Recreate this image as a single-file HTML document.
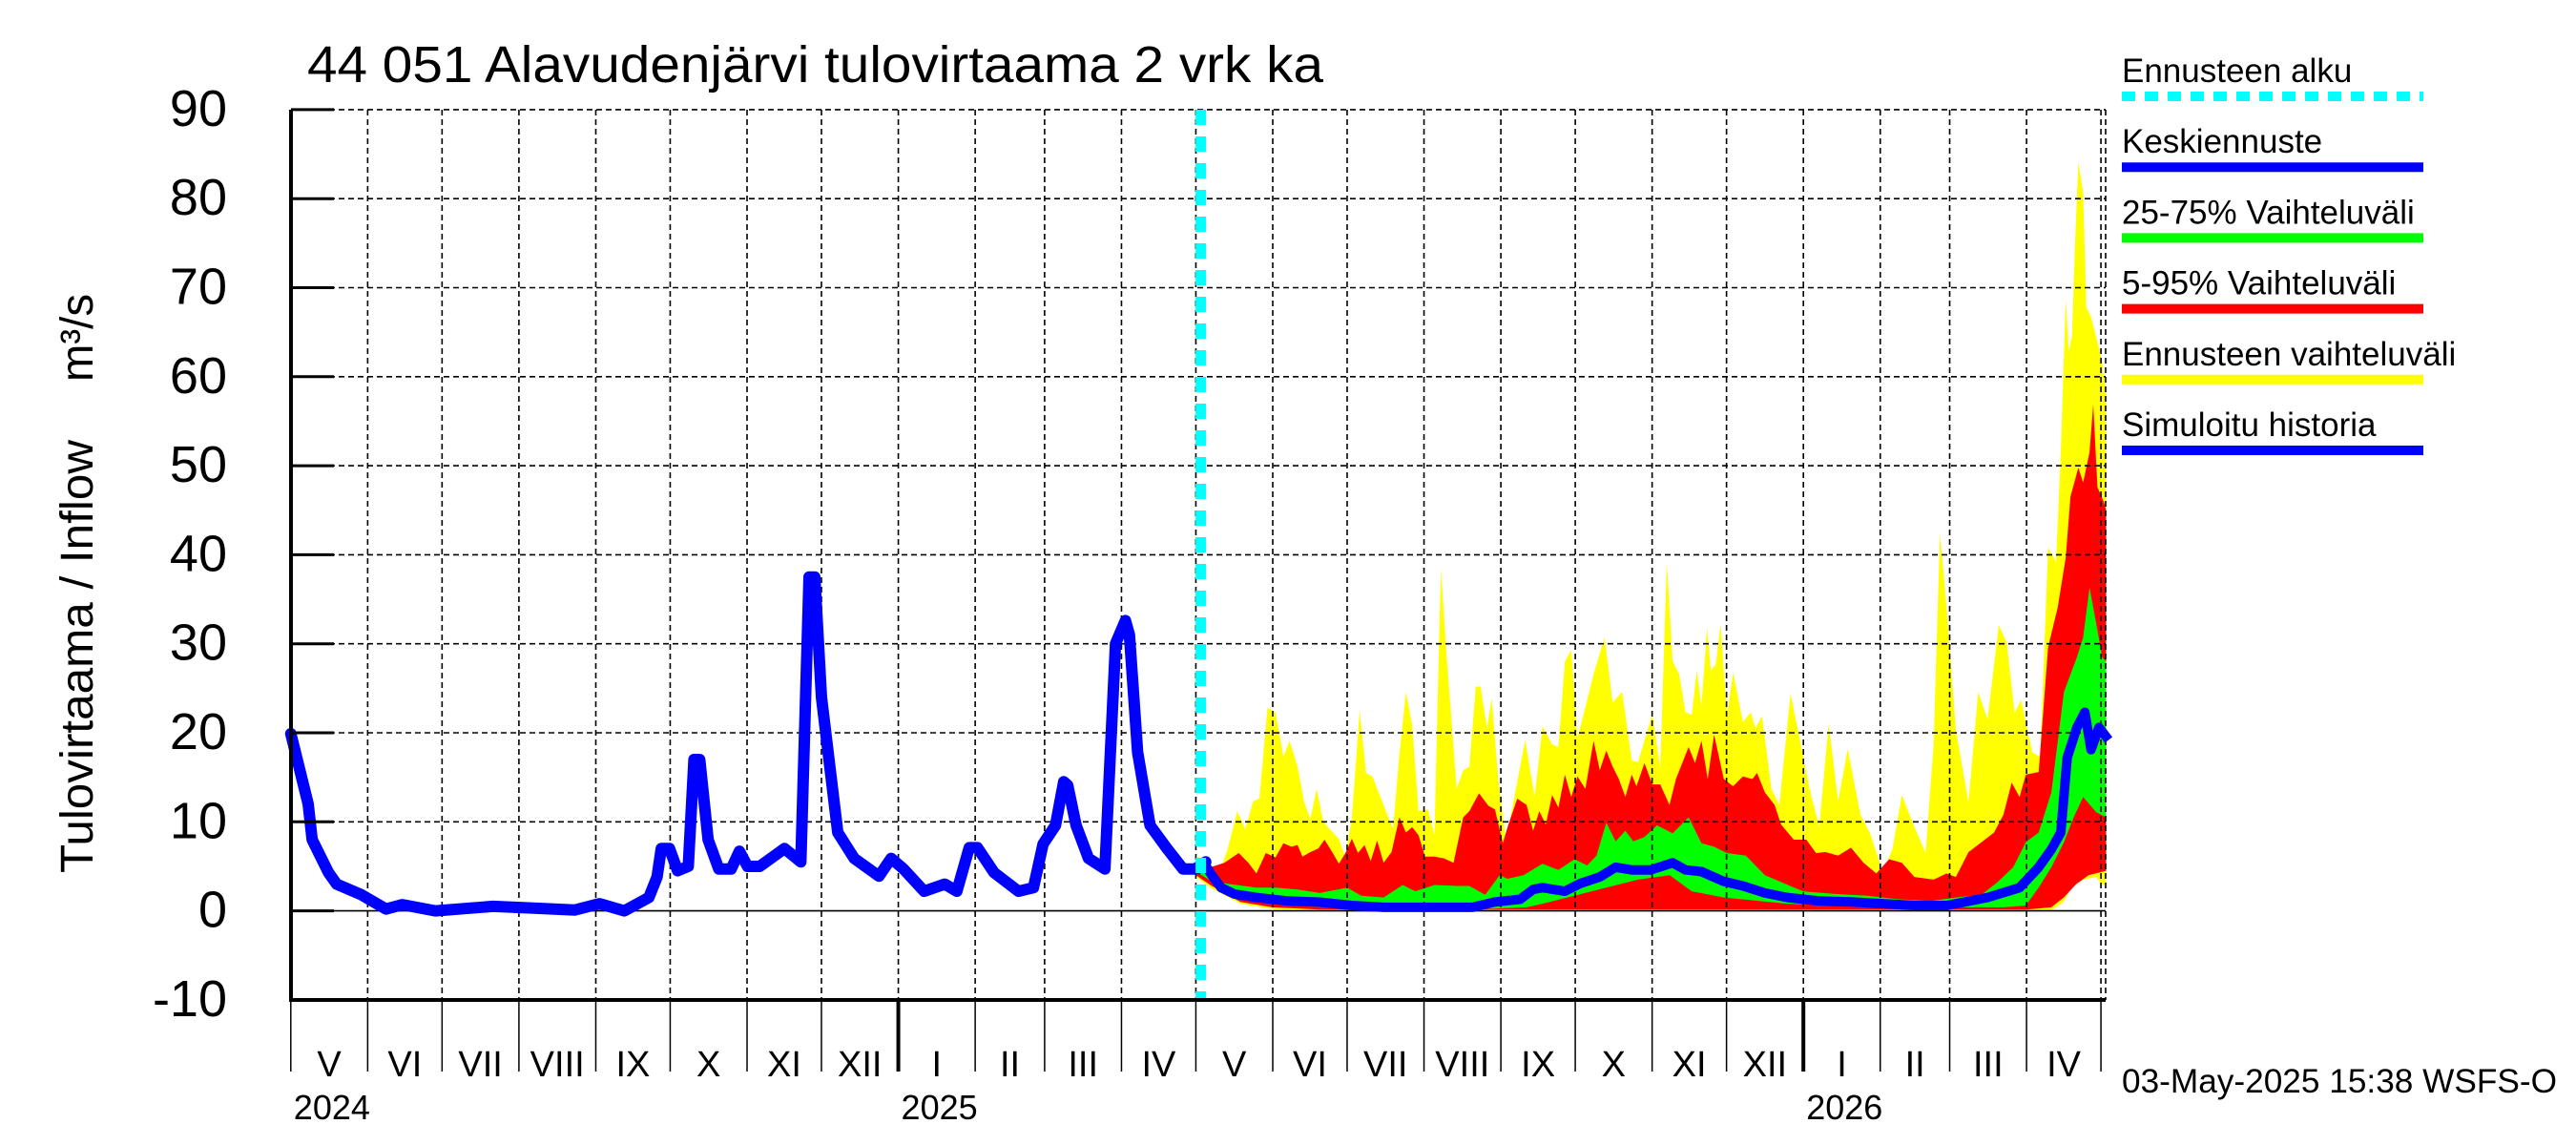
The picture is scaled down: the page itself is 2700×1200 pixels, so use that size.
<!DOCTYPE html>
<html><head><meta charset="utf-8"><style>
html,body{margin:0;padding:0;background:#fff;}
svg{display:block;font-family:"Liberation Sans",sans-serif;}
</style></head><body>
<svg id="chart" width="2700" height="1200" viewBox="0 0 2700 1200" xmlns="http://www.w3.org/2000/svg">
<text x="322" y="86" font-size="54" textLength="1065" lengthAdjust="spacingAndGlyphs">44 051 Alavudenjärvi tulovirtaama 2 vrk ka</text>
<text transform="translate(97,915) rotate(-90)" font-size="48" textLength="454" lengthAdjust="spacingAndGlyphs">Tulovirtaama / Inflow</text>
<text transform="translate(97,400) rotate(-90)" font-size="48" textLength="92" lengthAdjust="spacingAndGlyphs">m³/s</text>
<g id="bands"></g>
<g id="grid"></g>
<g id="lines"></g>
<g id="axes"></g>
<g id="legend"></g>
<text x="2224" y="1145" font-size="35" textLength="456" lengthAdjust="spacingAndGlyphs">03-May-2025 15:38 WSFS-O</text>
</svg>
<script>
// ---- data (x = days since 2024-05-01, y = m3/s) ----
const yTicks = [-10,0,10,20,30,40,50,60,70,80,90];
const monthNames = ["I","II","III","IV","V","VI","VII","VIII","IX","X","XI","XII"];
const histDays = [0,7,8.6,15.2,18.5,28.5,38.4,45,58.3,81.5,98,114.6,124.5,134.5,144.4,147.7,149.4,152.7,156,160.3,162.6,164.9,168.3,172.6,177.6,180.9,184.2,189.1,199.1,205.7,209,211.3,214,220.6,227.2,237.2,242.1,247.1,255.4,263.7,268.6,273.6,276.9,283.6,293.5,299.5,303.4,308.4,311.7,313.3,316.7,321.7,328.3,332.6,336.6,338.2,341.5,346.5,353.1,359.8,364.7,369];
const histVals = [19.9,12,8,4.3,3,1.8,0.2,0.7,0,0.5,0.3,0.1,0.8,0,1.5,3.8,7,7,4.5,5,17,17,8,4.7,4.7,6.7,5,5,7,5.5,37.5,37.5,24,8.8,5.9,3.9,5.9,4.7,2.2,3,2.2,7.1,7.1,4.3,2.2,2.6,7.5,9.6,14.5,14.1,9.6,5.9,4.7,30,32.6,31,17.8,9.6,7.1,4.7,4.7,5.5];
const ymaxDays = [365,368.8,374,377.8,381.7,384.9,388.1,390.6,393.9,397.1,400.3,402.8,406,408.6,411.2,413.7,416.3,418.9,422.7,425.3,427.9,431.1,433.6,436.2,440.7,444.5,447.1,449.7,452.2,454.8,458.6,461.2,463.8,466.3,470.2,472.8,475.3,477.9,479.8,482.4,484.3,486.9,490.1,493.3,497.8,501.6,504.8,508.7,511.2,513.8,516.4,518.9,522.8,525.4,529.8,533.1,536.9,540.8,543.3,545.9,549.1,552.3,554.9,557.3,559.9,562.5,565,567,568.9,571.2,572.7,574.7,576.6,579.2,581.7,585.6,588.8,590.7,593.3,597.1,600.3,604.8,608.7,612.5,616.4,620.2,624,627.9,633,636.9,642,645.9,649.7,654.8,659.3,662.5,665.1,667.7,671.5,676.6,680.5,684.3,688.8,692,695.2,697.8,702.3,705.5,708.7,711.9,713.8,715.8,717,718.3,719.6,720.9,722.8,724.1,726,728.6,730.5,732.1];
const ymaxVals = [6,6,4,6.9,11.2,9.2,12.3,12.6,22.8,22.3,17.3,19.1,16.2,12.3,10.3,13.7,10.1,9.2,8.1,6,10.5,22.5,15.5,15.1,11.9,9.2,17.6,24.6,20.9,11.2,11.4,8.5,38.4,28,13.7,15.8,16.2,25.2,25.2,20.5,23.9,14.8,7.8,12.6,19.2,12.8,20.7,18.7,18.4,28,29.3,19.4,23.7,26.6,30.7,23.4,24.6,16.9,16.7,19.1,22.1,16,39.1,28,26.6,22.3,22,27,23,31.8,27,27.7,32.2,21.9,26.8,21.2,22.3,20.5,21.9,13.7,11.9,24.4,19.1,13.7,9.4,21,12.3,18.2,10.8,8.7,4.4,6.9,13,9.4,6.5,18.5,42.4,34.1,20.3,12.2,24.6,21.5,32.1,30.1,22.2,23.7,17.8,17.3,40.8,39.2,51.5,68.7,62.8,64.6,75.1,84.1,80.7,67.8,66.7,63.9,61.6,58.3];
const yminDays = [365,371.4,383,395.8,415,710,715,718,722.8,728,730.5,732.1];
const yminVals = [3.8,2.5,0.8,0.2,0.05,0.05,1.0,2.6,3.5,3.8,2.9,3.0];
const p95Days = [365,368.8,376.5,382.3,386.2,389.4,393.2,397.1,400.3,403.5,406,408,411.2,414.4,416.9,420.2,422.7,425.3,427.9,430.4,433,435.5,438.1,440.7,443.9,447.1,449.7,452.2,454.8,457.4,461.2,465.1,468.9,472.8,475.3,479.2,483,485.6,488.8,490.7,494.6,498.4,501,503.5,506.1,508.7,511.2,513.8,516.4,518.9,522.1,525.4,527.9,530.5,533.1,535.6,538.2,540.8,542.7,545.9,549.1,552.3,556,558.6,563.7,566.3,568.9,571.4,574,577.9,581.7,585.6,589.4,591.3,594.5,598.4,601,606.1,611.2,615.1,618.9,624,629.2,634.3,639.4,644.6,649.7,654.8,662.5,667.7,671.5,676.6,681.8,686.9,690.7,694,697.2,699.7,704.9,708.7,712.6,715.8,717.7,720.9,722.8,725.4,726.9,728.6,731.2,732.1];
const p95Vals = [5.5,4.7,5.4,6.5,5.4,4.2,6.5,6,7.6,7.2,7.4,6.1,6.6,7,8,6.5,5.3,6.5,8.1,6.5,7.4,5.6,7.9,5.4,6.6,10.5,8.8,9.4,8.5,6.1,6.1,5.9,5.4,10.5,11.2,13.2,11.8,11.4,7.6,9.4,12.6,11.9,9,11.2,9.7,13,11.6,15.3,12.8,15.1,13.7,19.1,15.8,18,16.2,14.8,12.8,15.3,14,16.6,14.2,14.2,11.9,14.8,18.4,16.6,19.1,14.8,19.8,14.8,14,15.1,14.8,15.5,13.3,11.9,9.7,8,8,6.5,6.6,6.2,7.1,5.4,4.2,5.8,5.4,3.8,3.5,4.2,3.8,6.6,7.7,8.8,10.8,14.4,12.8,15.3,15.6,29.6,34.1,39.7,46.5,49.8,48.1,51.5,56.9,47.6,45.9,45];
const p5Days = [365,371.4,383,395.8,415,700,710,715,720,725,732.1];
const p5Vals = [4.0,2.8,1.0,0.4,0.15,0.15,0.4,1.5,3.0,4.0,4.5];
const p75Days = [365,368.8,376.5,389.4,397.1,406,415,426,431.7,440.7,448.4,453.5,461.2,470.2,475.3,481.7,487.5,490.7,497.1,504.8,511.2,517.7,522.8,526.6,530.5,534.3,538.2,541.4,545.9,551,557.3,563.7,568.9,574,579.1,586.8,594.5,602.2,609.9,622.8,635.6,648.4,661.3,671.5,681.8,688.2,694.6,699.7,704.9,710,715.1,720.3,722.8,725.4,728,730.5,732.1];
const p75Vals = [5,4.4,3.1,2.6,2.6,2.4,2,2.6,1.7,1.5,2.9,2.2,2.9,2.8,2.8,1.8,4,3.6,4,5.3,4.6,5.8,5.1,6.2,9.9,7.8,9,7.8,8.3,9.6,8.7,10.5,7.6,7.2,6.5,6.2,4,3.1,2.2,1.9,1.7,1.3,1.1,1.5,1.8,3.2,4.9,7.7,8.8,13.3,24.6,28.5,30.7,36.3,32.4,28.5,28];
const p25Days = [365,371.4,383,402.2,427.9,453.5,485.6,498.4,504.8,517.7,530.5,543.3,556.1,565,577.9,603.5,642,667.7,690.7,699.7,704.9,710,715.1,719,722.8,728,732.1];
const p25Vals = [4.4,3.3,1.3,0.6,0.25,0.1,0.25,0.4,0.8,1.7,2.6,3.5,4,2.2,1.5,0.8,0.4,0.4,0.4,0.6,2.6,4.9,7.7,10.5,12.8,11.1,10.5];
const medDays = [365,368.2,371.4,375.2,380.4,389.4,402.2,415,427.9,440.7,453.5,466.3,476.6,485.6,495.8,501,504.8,513.8,520.2,527.9,534.3,540.8,548.4,557.3,562.5,568.9,577.9,585.6,594.5,603.5,616.4,629.2,642,654.8,667.7,671.5,684.3,697.2,704.9,710,713.8,716.4,720.3,723.5,726,729.2,733.1];
const medVals = [4.4,5.4,4,2.6,1.9,1.5,1.1,0.97,0.6,0.4,0.4,0.4,0.4,1,1.3,2.4,2.6,2.2,3.1,3.8,4.9,4.6,4.6,5.4,4.6,4.4,3.3,2.8,2,1.5,1.1,1,0.8,0.6,0.6,0.8,1.5,2.6,4.9,6.9,8.8,17.2,20.6,22.3,18.1,20.6,19.2];
const forecastStartDay = 367;
const legendLabels = ["Ennusteen alku","Keskiennuste","25-75% Vaihteluväli","5-95% Vaihteluväli","Ennusteen vaihteluväli","Simuloitu historia"];

// ---- scales ----
const X0 = 304.8, PXD = 2.599, LEFT = 305, RIGHT = 2207, TOP = 115, BOTTOM = 1048;
function xs(d){ return X0 + PXD*d; }
function ys(v){ return 954.6 - 9.33*v; }
const NS = "http://www.w3.org/2000/svg";
function mk(tag, parent, attrs){ const e=document.createElementNS(NS,tag); for(const k in attrs) e.setAttribute(k, attrs[k]); parent.appendChild(e); return e; }
const bands = document.getElementById('bands'), grid = document.getElementById('grid'), lines = document.getElementById('lines'), axes = document.getElementById('axes'), legend = document.getElementById('legend');

function bandPath(tD,tV,bD,bV){
  let p = tD.map((d,i)=>(i?'L':'M')+xs(d).toFixed(1)+','+ys(tV[i]).toFixed(1)).join('');
  for(let i=bD.length-1;i>=0;i--) p += 'L'+xs(bD[i]).toFixed(1)+','+ys(bV[i]).toFixed(1);
  return p+'Z';
}
function linePath(D,V){ return D.map((d,i)=>(i?'L':'M')+xs(d).toFixed(1)+','+ys(V[i]).toFixed(1)).join(''); }

let e;
e = mk('path', bands, {d:bandPath(ymaxDays,ymaxVals,yminDays,yminVals), fill:'#ffff00'});


e = mk('path', bands, {d:bandPath(p95Days,p95Vals,p5Days,p5Vals), fill:'#ff0000'});


e = mk('path', bands, {d:bandPath(p75Days,p75Vals,p25Days,p25Vals), fill:'#00ff00'});



// grid: months
const start = new Date(Date.UTC(2024,4,1));
const monthBounds = [];
for(let m=0;m<=24;m++){
  const dt = new Date(Date.UTC(2024,4+m,1));
  monthBounds.push({d:(dt-start)/86400000, month:dt.getUTCMonth(), year:dt.getUTCFullYear()});
}
monthBounds.forEach((mb)=>{
  e = mk('line', grid, {x1:xs(mb.d), x2:xs(mb.d), y1:TOP, y2:BOTTOM, stroke:'#000', 'stroke-width':1.6, 'stroke-dasharray':'6,4'});
  
  
});
e = mk('line', grid, {x1:RIGHT, x2:RIGHT, y1:TOP, y2:BOTTOM, stroke:'#000', 'stroke-width':1.6, 'stroke-dasharray':'6,4'});


yTicks.forEach(v=>{
  if(v===-10) return;
  e = mk('line', grid, {x1:LEFT, x2:RIGHT, y1:ys(v), y2:ys(v), stroke:'#000', 'stroke-width':1.6, 'stroke-dasharray':v===0?'none':'6,4'});
  
  
});

// series lines
e = mk('path', lines, {d:linePath(medDays,medVals), fill:'none', stroke:'#0000ff', 'stroke-width':10, 'stroke-linejoin':'round'});


e = mk('path', lines, {d:linePath(histDays,histVals), fill:'none', stroke:'#0000ff', 'stroke-width':12, 'stroke-linejoin':'round', 'stroke-linecap':'round'});


e = mk('line', lines, {x1:xs(forecastStartDay), x2:xs(forecastStartDay), y1:TOP, y2:BOTTOM, stroke:'#00ffff', 'stroke-width':11, 'stroke-dasharray':'16,12'});



// axes
e = mk('line', axes, {x1:LEFT, x2:LEFT, y1:TOP, y2:BOTTOM+2, stroke:'#000', 'stroke-width':4});


e = mk('line', axes, {x1:LEFT, x2:RIGHT, y1:BOTTOM, y2:BOTTOM, stroke:'#000', 'stroke-width':4});


yTicks.forEach(v=>{
  e = mk('line', axes, {x1:LEFT, x2:350, y1:ys(v), y2:ys(v), stroke:'#000', 'stroke-width':3});
  
  
  e = mk('text', axes, {x:238, y:ys(v)+17, 'font-size':54, 'text-anchor':'end'});
  e.textContent = String(v);
  
  
});
monthBounds.forEach((mb,i)=>{
  const yb = mb.month===0;
  e = mk('line', axes, {x1:xs(mb.d), x2:xs(mb.d), y1:BOTTOM, y2:1123, stroke:'#000', 'stroke-width':yb?4:1.5});
  
  
  if(i<24){
    const c = (xs(mb.d)+xs(monthBounds[i+1].d))/2;
    e = mk('text', axes, {x:c, y:1128, 'font-size':38, 'text-anchor':'middle'});
    e.textContent = monthNames[mb.month];
    
    
  }
  if(i===0 || yb){
    e = mk('text', axes, {x:xs(mb.d)+3, y:1173, 'font-size':36});
    e.textContent = String(mb.year);
    
    
  }
});

// legend
const legendColors = ['#00ffff','#0000ff','#00ff00','#ff0000','#ffff00','#0000ff'];
legendLabels.forEach((lab,i)=>{
  const ty = 86 + i*74.2, ly = 101 + i*74.2;
  e = mk('text', legend, {x:2224, y:ty, 'font-size':35});
  e.textContent = lab;
  
  
  e = mk('line', legend, {x1:2224, x2:2540, y1:ly, y2:ly, stroke:legendColors[i], 'stroke-width':10, 'stroke-dasharray': i===0?'14,10':'none'});
  
  
});
</script>
</body></html>
